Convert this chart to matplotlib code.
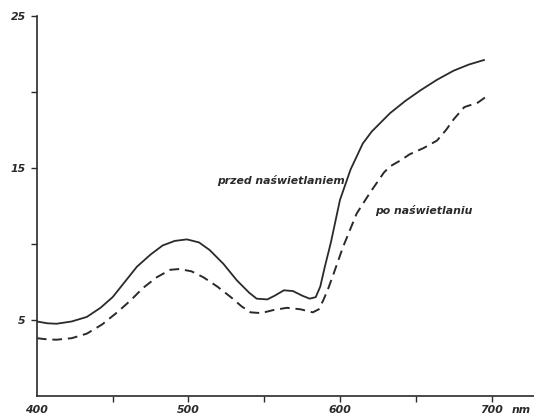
import matplotlib.pyplot as plt

# wavelength (nm) and values
wl_przed = [400, 407, 413, 423, 433, 442, 450, 458, 466, 475, 483, 491, 499, 507,
            514, 523, 532, 540, 545, 552, 557, 563, 569, 575, 580, 584, 587, 590,
            594, 600, 607, 615, 621, 627, 633, 643, 653, 664, 675, 685, 695]
val_przed = [4.9, 4.78, 4.75, 4.9, 5.2, 5.8, 6.5, 7.5, 8.5, 9.3, 9.9, 10.2, 10.3, 10.1,
             9.6, 8.7, 7.6, 6.8, 6.4, 6.35, 6.6, 6.95, 6.9, 6.6, 6.4, 6.5, 7.2, 8.5,
             10.1, 12.9, 14.9, 16.6, 17.4, 18.0, 18.6, 19.4, 20.1, 20.8, 21.4, 21.8, 22.1]

wl_po = [400, 407, 413, 423, 433, 443, 453, 462, 470, 479, 488, 494, 502, 510,
         519, 528, 535, 541, 548, 556, 565, 574, 582, 586, 589, 592, 596, 602,
         611, 620, 629, 633, 640, 646, 655, 664, 670, 675, 682, 691, 698]
val_po = [3.8, 3.72, 3.7, 3.8, 4.1, 4.7, 5.5, 6.3, 7.1, 7.8, 8.3, 8.35, 8.2, 7.8,
          7.2, 6.5, 5.9, 5.5, 5.45, 5.65, 5.8, 5.7, 5.5, 5.7, 6.3, 7.0, 8.1, 9.8,
          12.0, 13.4, 14.7, 15.1, 15.5, 15.9, 16.3, 16.8, 17.5, 18.2, 19.0, 19.3, 19.8]

x_ticks = [450, 500, 550, 600, 650, 700]
x_labels = {400: '400', 500: '500', 600: '600', 700: '700'}
y_ticks = [5, 10, 15, 20, 25]
y_labels = {5: '5', 15: '15', 25: '25'}

ink = '#2a2a2a'
lab_font = dict(fontsize=7.8, fontstyle='italic', fontweight='bold', color=ink)

fig = plt.figure(figsize=(5.34, 4.19), dpi=100)
ax = fig.add_axes([0.069, 0.055, 0.931, 0.907])

ax.plot(wl_przed, val_przed, color=ink, lw=1.3, solid_joinstyle='round')
ax.plot(wl_po, val_po, color=ink, lw=1.4, linestyle=(0, (5, 3)))

ax.set_xlim(400, 728)
ax.set_ylim(0, 25)

for s in ['top', 'right']:
    ax.spines[s].set_visible(False)
for s in ['left', 'bottom']:
    ax.spines[s].set_color(ink)
    ax.spines[s].set_linewidth(1.2)

ax.set_xticks(x_ticks)
ax.set_xticklabels([])
ax.set_yticks(y_ticks)
ax.set_yticklabels([y_labels.get(v, '') for v in y_ticks], **lab_font)
ax.tick_params(axis='both', colors=ink, length=4, width=1.0)
ax.tick_params(axis='y', pad=4)

for v, t in x_labels.items():
    ax.text(v, -0.6, t, ha='center', va='top', **lab_font)
ax.text(713, -0.6, 'nm', ha='left', va='top', **lab_font)

ax.text(519, 14.2, 'przed naświetlaniem', ha='left', va='center', **lab_font)
ax.text(623.5, 12.2, 'po naświetlaniu', ha='left', va='center', **lab_font)

fig.savefig('out.png', dpi=100)
